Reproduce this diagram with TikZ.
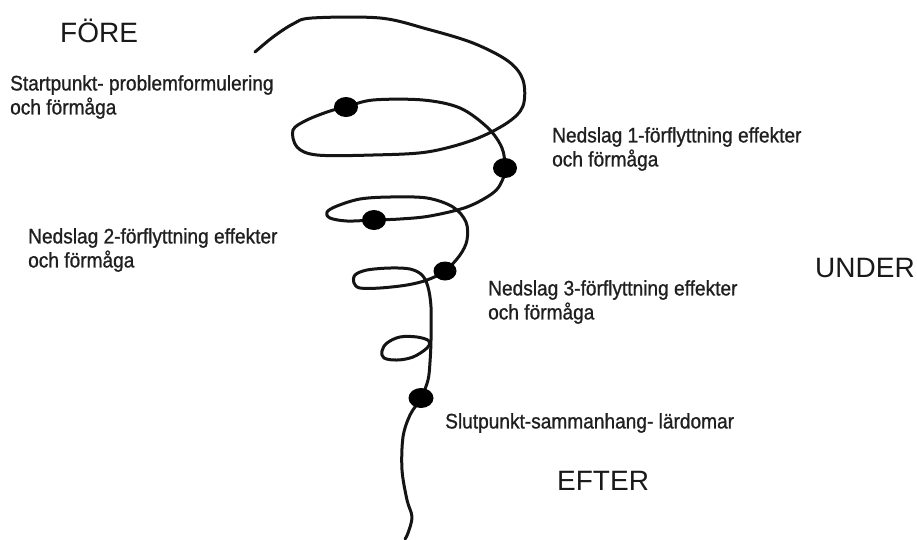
\documentclass[tikz,border=0pt]{standalone}
\usepackage{fontspec}
\setmainfont{Liberation Sans}
\newfontfamily\notefont[FakeStretch=0.91,FakeBold=0.9]{Liberation Sans}
\usetikzlibrary{shapes.geometric}

\tikzset{
  spiral/.style={line width=3pt, line cap=round, line join=round, black!92},
  waypoint/.style={ellipse, fill=black, draw=none, minimum width=24pt, minimum height=20pt, inner sep=0},
  phase/.style={font=\fontsize{28}{32}\selectfont, inner sep=0, anchor=base west, text=black!90},
  note/.style={font=\notefont\fontsize{21}{24}\selectfont, inner sep=0, anchor=north west, align=left, text=black!88}
}

\begin{document}
\begin{tikzpicture}[x=1pt,y=-1pt]
  \useasboundingbox (0,0) rectangle (917,539);
  \fill[white] (0,0) rectangle (917,539);

  % the winding path, from the first turn down to the tail
  \draw[spiral] plot[smooth, tension=0.55] coordinates {
    (255,52) (273,37) (293,24) (312,18) (380,18) (427,29) (473,43)
    (508,61) (523,80) (523,106) (507,123) (473,140) (427,152) (373,155)
    (317,155) (297,147) (293,130) (307,120) (330,111) (346,107)
    (373,100) (423,100) (460,108) (488,128) (502,148) (505,168)
    (502,181) (493,193) (467,207) (430,216) (400,219) (374,220)
    (347,221) (330,218) (327,212) (337,206) (360,199) (390,197)
    (427,198) (453,207) (466,222) (467,240) (460,255) (445,271)
    (427,280) (407,285) (380,288) (360,288) (354,283) (355,275)
    (367,270) (390,268) (410,269) (422,275) (428,287) (431,307)
    (431,340) (430,362) (428,380) (421,398) (410,415) (403,437)
    (402,470) (407,500) (412,517) (408,533) (405,539)};

  % small closed turn on the descending stroke
  \draw[spiral] plot[smooth cycle, tension=0.6] coordinates {
    (429,341) (417,337) (400,337) (387,343) (382,351) (384,358)
    (397,360) (413,357) (427,348)};

  % stations along the path
  \node[waypoint] (p0) at (346,107) {};
  \node[waypoint] (p1) at (505,168) {};
  \node[waypoint] (p2) at (374,220) {};
  \node[waypoint, minimum width=23pt, minimum height=19pt] (p3) at (445,271) {};
  \node[waypoint, minimum width=25pt] (p4) at (421,398) {};

  % phase headings
  \node[phase] (fore)  at (60,42)   {FÖRE};
  \node[phase] (under) at (815,277) {UNDER};
  \node[phase] (efter) at (557,490) {EFTER};

  % station descriptions
  \node[note] (n0) at (10,75)   {Startpunkt- problemformulering\\och förmåga};
  \node[note] (n1) at (552,127) {Nedslag 1-förflyttning effekter\\och förmåga};
  \node[note] (n2) at (28,228)  {Nedslag 2-förflyttning effekter\\och förmåga};
  \node[note] (n3) at (488,280) {Nedslag 3-förflyttning effekter\\och förmåga};
  \node[note] (n4) at (445,413) {Slutpunkt-sammanhang- lärdomar};
\end{tikzpicture}
\end{document}
